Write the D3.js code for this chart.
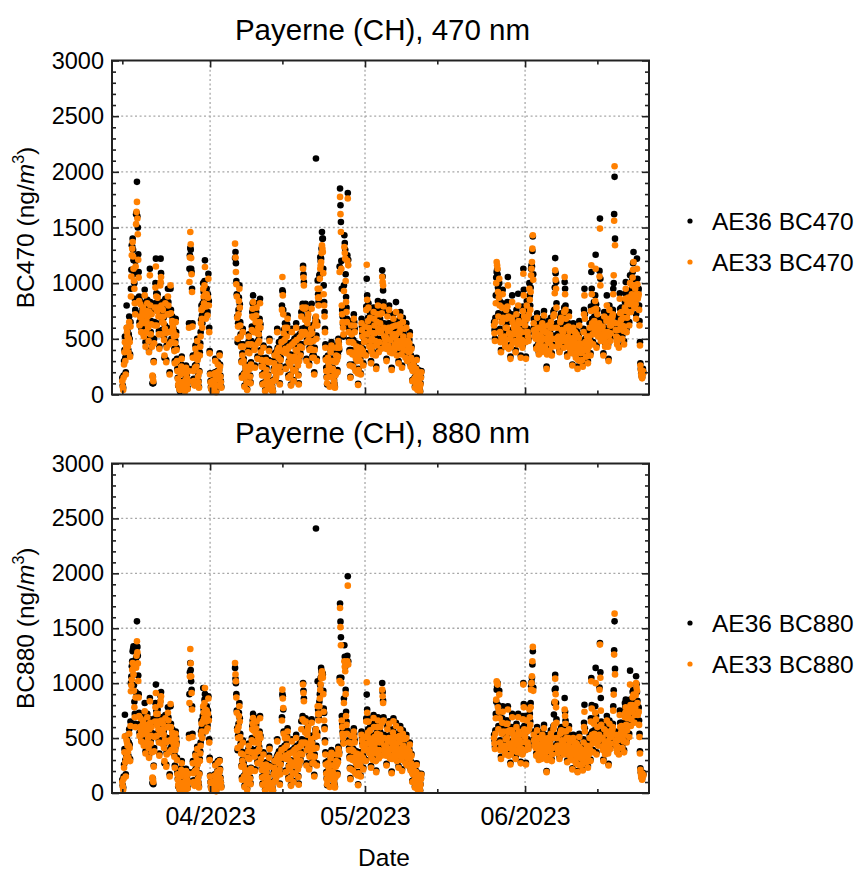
<!DOCTYPE html>
<html>
<head>
<meta charset="utf-8">
<script src="https://cdn.jsdelivr.net/npm/d3@7/dist/d3.min.js"></script>
<style>
  html, body { margin: 0; padding: 0; background: #fff; }
  svg { display: block; font-family: "Liberation Sans", Arial, sans-serif; }
</style>
</head>
<body>
<svg id="chart" width="861" height="871"></svg>
<script>
// Black carbon at Payerne (CH), 2-hourly values in ng/m3.
// Spring segment starts 2023-03-15 00:00 UTC, early-summer segment 2023-05-26 00:00 UTC.
// One row = one day (00, 02, ... 22 h). null = no data.

const ae33_470_a = [
  120, 70, 40, 150, 270, 380, 470, 300, 180, 420, 600, 560,
  520, 430, 380, 500, 650, 470, 340, 610, 880, 1060, 1250, 1310,
  1370, 1240, 1130, 1020, 950, 820, 720, 1150, 1530, 1640, 1730, 1580,
  1440, 1210, 1050, 840, 620, 700, 810, 690, 560, 640, 700, 740,
  780, 650, 520, 710, 890, 640, 430, 560, 660, 750, 820, 700,
  600, 480, 380, 740, 1070, 800, 540, 630, 720, 430, 170, 150,
  120, 290, 460, 620, 780, 960, 1150, 880, 620, 750, 870, 780,
  700, 540, 410, 700, 980, 1010, 1055, 800, 540, 650, 760, 700,
  640, 490, 350, 590, 820, 550, 290, 420, 560, 720, 880, 800,
  720, 450, 180, 560, 980, 730, 470, 570, 660, 630, 600, 560,
  520, 390, 280, 460, 650, 530, 400, 300, 210, 140, 90, 75,
  60, 50, 40, 110, 180, 250, 320, 210, 110, 85, 70, 80,
  90, 55, 30, 130, 240, 190, 150, 95, 50, 120, 210, 600,
  1010, 1230, 1460, 1350, 1225, 1080, 920, 610, 330, 210, 120, 95,
  80, 240, 410, 330, 250, 360, 480, 310, 160, 110, 60, 200,
  350, 430, 520, 640, 760, 680, 600, 780, 950, 880, 820, 980,
  1145, 900, 680, 790, 900, 800, 710, 870, 1040, 800, 560, 370,
  180, 110, 60, 50, 40, 80, 120, 70, 30, 60, 90, 190,
  300, 150, 20, 80, 140, 200, 270, 170, 80, 210, 350, 250,
  160, 110, 60, null, null, null, null, null, null, null, null, null,
  null, null, null, null, null, null, null, null, null, null, null, null,
  null, null, null, null, null, null, null, null, null, null, 1355, 1230,
  1100, 990, 880, 690, 500, 610, 720, 840, 950, 780, 620, 520,
  430, 290, 150, 350, 560, 430, 300, 180, 70, 160, 250, 210,
  180, 110, 40, 210, 380, 450, 520, 370, 230, 160, 100, 270,
  450, 580, 700, 770, 830, 690, 560, 400, 240, 440, 650, 710,
  780, 550, 320, 460, 600, 540, 480, 650, 820, 600, 380, 310,
  250, 170, 90, 250, 420, 300, 180, 100, 30, 170, 310, 220,
  140, 100, 60, 170, 290, 390, 480, 290, 110, 75, 40, 55,
  70, 45, 25, 120, 210, 280, 350, 240, 130, 150, 180, 370,
  560, 400, 240, 330, 420, 250, 90, 200, 310, 390, 470, 760,
  1055, 890, 720, 550, 380, 490, 600, 410, 230, 370, 520, 600,
  680, 410, 150, 290, 430, 340, 260, 170, 80, 320, 560, 450,
  330, 220, 120, 300, 470, 340, 210, 400, 600, 490, 390, 320,
  260, 170, 90, 300, 510, 430, 350, 520, 700, 560, 420, 780,
  1130, 1050, 980, 770, 560, 670, 780, 540, 300, 470, 640, 680,
  720, 490, 260, 400, 540, 470, 410, 590, 770, 550, 330, 400,
  480, 330, 180, 400, 620, 660, 700, 500, 300, 620, 950, 870,
  800, 870, 950, 1040, 1130, 1160, 1190, 1270, 1340, 1310, 1280, 1090,
  900, 800, 700, 560, 420, 310, 210, 150, 100, 210, 330, 290,
  250, 160, 70, 220, 380, 410, 440, 300, 160, 230, 300, 210,
  120, 90, 60, 170, 290, 350, 420, 310, 200, 340, 480, 450,
  420, 1100, 1775, 1620, 1460, 1130, 800, 720, 650, 600, 540, 930,
  1325, 1270, 1220, 1020, 830, 740, 650, 1200, 1760, 1160, 560, 470,
  380, 260, 150, 380, 620, 540, 470, 360, 250, 460, 680, 620,
  560, 380, 210, 320, 430, 360, 300, 190, 85, 220, 350, 380,
  420, 300, 180, 410, 640, 580, 520, 390, 260, 360, 470, 540,
  610, 480, 350, 760, 1165, 850, 540, 660, 780, 600, 430, 560,
  690, 480, 280, 390, 500, 430, 360, 550, 740, 680, 620, 550,
  480, 350, 230, 440, 650, 720, 800, 590, 380, 470, 560, 640,
  720, 560, 410, 730, 1055, 1010, 980, 790, 600, 520, 450, 490,
  520, 410, 300, 500, 700, 570, 440, 600, 760, 570, 380, 490,
  600, 410, 220, 370, 530, 610, 680, 540, 400, 450, 510, 620,
  740, 540, 350, 480, 620, 450, 280, 420, 560, 630, 700, 590,
  480, 360, 240, 440, 650, 520, 400, 490, 590, 460, 330, 460,
  600, 450, 300, 390, 480, 430, 380, 460, 530, 390, 250, 330,
  410, 260, 120, 210, 300, 260, 220, 140, 60, 110, 160, 230,
  310, 170, 40, 120, 200, 150, 100, 60, 25, 90, 150, 200
];

const ae36_470_a = [
  150, 80, 60, 170, 300, 400, 520, 330, 200, 460, 800, 600,
  580, 460, 400, 540, 700, 500, 360, 650, 950, 1120, 1340, 1330,
  1400, 1300, 1205, 1080, 1000, 860, 760, 1200, 1620, 1630, 1910, 1600,
  1500, 1260, 1100, 880, 650, 730, 840, 720, 600, 670, 720, 770,
  820, 680, 540, 740, 940, 670, 470, 590, 700, 790, 850, 730,
  640, 500, 400, 770, 1130, 830, 560, 660, 750, 450, 100, 160,
  100, 300, 500, 650, 820, 1000, 1220, 910, 640, 790, 900, 810,
  740, 570, 430, 730, 1000, 1220, 1090, 830, 580, 680, 800, 730,
  690, 510, 330, 620, 860, 580, 310, 440, 600, 760, 950, 830,
  760, 470, 200, 590, 950, 760, 500, 600, 700, 660, 640, 590,
  560, 410, 300, 480, 680, 560, 420, 320, 230, 150, 80, 80,
  70, 55, 30, 120, 200, 270, 340, 220, 120, 90, 60, 90,
  100, 60, 40, 140, 260, 200, 170, 100, 60, 130, 230, 640,
  1130, 1250, 1315, 1300, 1130, 1100, 950, 640, 350, 230, 140, 100,
  90, 260, 440, 350, 270, 380, 500, 330, 170, 120, 70, 210,
  380, 460, 560, 670, 800, 710, 640, 820, 1000, 920, 860, 1020,
  1205, 940, 720, 830, 950, 840, 740, 900, 1085, 840, 600, 390,
  190, 120, 70, 55, 50, 90, 130, 80, 40, 70, 100, 200,
  320, 160, 30, 90, 160, 210, 290, 180, 90, 220, 370, 270,
  170, 120, 70, null, null, null, null, null, null, null, null, null,
  null, null, null, null, null, null, null, null, null, null, null, null,
  null, null, null, null, null, null, null, null, null, null, 1225, 1280,
  1180, 1020, 900, 700, 470, 640, 760, 870, 980, 810, 650, 540,
  450, 300, 170, 370, 590, 450, 320, 190, 80, 170, 270, 230,
  200, 120, 50, 220, 400, 470, 540, 390, 250, 170, 110, 290,
  480, 610, 740, 820, 890, 720, 600, 420, 260, 460, 690, 740,
  820, 580, 340, 480, 640, 570, 510, 680, 860, 630, 400, 330,
  270, 180, 100, 260, 440, 320, 200, 110, 40, 180, 330, 240,
  150, 110, 70, 180, 310, 410, 500, 300, 120, 80, 50, 60,
  80, 50, 30, 130, 230, 300, 370, 250, 140, 160, 200, 390,
  590, 420, 260, 350, 470, 270, 100, 210, 330, 410, 500, 800,
  935, 920, 760, 580, 400, 510, 640, 430, 250, 390, 550, 630,
  710, 430, 170, 300, 460, 360, 280, 180, 90, 340, 590, 470,
  350, 230, 130, 320, 500, 360, 230, 420, 640, 520, 410, 340,
  280, 180, 100, 320, 540, 450, 370, 550, 740, 590, 450, 815,
  1155, 1080, 1010, 810, 600, 700, 815, 570, 320, 490, 680, 710,
  760, 510, 280, 420, 570, 490, 430, 620, 815, 580, 350, 420,
  500, 350, 200, 420, 650, 690, 2120, 530, 320, 650, 1025, 900,
  830, 900, 1070, 1080, 1235, 1200, 1220, 1310, 1460, 1400, 1400, 1130,
  980, 830, 740, 590, 450, 330, 240, 160, 90, 220, 350, 300,
  270, 170, 80, 230, 400, 430, 470, 320, 170, 240, 320, 220,
  130, 95, 70, 180, 310, 370, 440, 330, 220, 360, 500, 470,
  400, 1150, 1850, 1700, 1550, 1200, 950, 760, 700, 630, 520, 980,
  1430, 1360, 1300, 1080, 875, 780, 680, 1250, 1810, 1210, 600, 490,
  400, 270, 160, 400, 660, 570, 500, 380, 270, 490, 720, 650,
  590, 400, 230, 340, 460, 380, 320, 200, 95, 230, 370, 400,
  450, 320, 190, 430, 680, 610, 550, 410, 280, 380, 500, 570,
  640, 500, 370, 790, 1040, 890, 570, 690, 820, 630, 460, 590,
  730, 500, 300, 410, 530, 450, 380, 580, 780, 720, 650, 580,
  510, 370, 250, 460, 690, 760, 840, 620, 400, 500, 590, 680,
  760, 590, 430, 770, 1115, 1060, 935, 830, 640, 550, 480, 520,
  550, 430, 320, 530, 740, 600, 470, 640, 800, 600, 400, 520,
  640, 430, 240, 390, 560, 640, 720, 570, 420, 480, 540, 660,
  830, 570, 370, 510, 660, 480, 300, 440, 590, 670, 740, 620,
  510, 380, 260, 460, 690, 550, 430, 520, 620, 490, 350, 490,
  640, 480, 320, 410, 500, 460, 400, 490, 560, 410, 270, 350,
  430, 270, 130, 220, 320, 270, 240, 150, 70, 120, 170, 240,
  330, 180, 50, 130, 220, 160, 110, 65, 30, 100, 160, 210
];

const ae33_470_b = [
  620, 550, 480, 650, 820, 1000, 1190, 1160, 1130, 920, 700, 870,
  1040, 800, 560, 470, 380, 510, 650, 780, 900, 690, 470, 500,
  520, 470, 430, 600, 760, 680, 600, 790, 980, 700, 410, 550,
  690, 500, 320, 430, 540, 690, 830, 650, 470, 540, 610, 600,
  580, 480, 380, 550, 720, 590, 450, 630, 800, 660, 520, 580,
  640, 490, 330, 450, 560, 490, 420, 750, 1085, 890, 700, 660,
  620, 470, 320, 560, 800, 680, 560, 520, 480, 720, 950, 850,
  760, 920, 1070, 1130, 1190, 1310, 1430, 1030, 640, 580, 520, 550,
  580, 500, 410, 550, 690, 600, 520, 440, 360, 480, 600, 530,
  470, 420, 380, 510, 640, 570, 500, 610, 710, 570, 430, 500,
  560, 400, 230, 360, 480, 550, 620, 500, 390, 460, 540, 600,
  650, 500, 350, 430, 500, 600, 700, 710, 720, 910, 1115, 1030,
  950, 780, 600, 510, 430, 470, 520, 450, 380, 510, 650, 670,
  690, 580, 480, 520, 560, 490, 420, 740, 1055, 900, 760, 680,
  600, 470, 340, 430, 520, 610, 700, 570, 450, 410, 380, 430,
  480, 370, 260, 430, 600, 510, 420, 490, 560, 450, 330, 440,
  540, 380, 230, 310, 400, 510, 620, 460, 300, 370, 450, 410,
  380, 310, 250, 400, 560, 720, 890, 680, 470, 400, 340, 430,
  520, 400, 280, 350, 430, 520, 600, 470, 350, 750, 1160, 900,
  640, 540, 450, 600, 760, 660, 560, 840, 1130, 770, 420, 570,
  720, 620, 520, 580, 640, 1060, 1490, 980, 480, 540, 600, 600,
  610, 480, 350, 520, 700, 560, 430, 470, 520, 660, 800, 680,
  560, 430, 300, 530, 760, 620, 480, 550, 620, 650, 690, 700,
  720, 900, 1070, 1560, 2050, 1340, 640, 580, 520, 480, 450, 510,
  580, 500, 420, 640, 860, 730, 600, 670, 740, 620, 500, 600,
  690, 570, 450, 610, 780, 860, 950, 750, 560, 690, 820, 850,
  870, 740, 620, 810, 1000, 870, 740, 820, 900, 980, 1050, 1120,
  1190, 980, 780, 860, 950, 810, 680, 900, 1130, 990, 860, 880,
  900, 760, 620, 440, 260, 220, 180, 160, 145, 175, 210, 190
];

const ae36_470_b = [
  650, 580, 500, 690, 890, 1050, 1100, 1120, 1080, 960, 730, 910,
  1000, 840, 590, 490, 400, 540, 690, 820, 940, 720, 490, 530,
  550, 490, 450, 630, 800, 710, 640, 830, 1055, 740, 430, 580,
  720, 530, 340, 450, 570, 720, 890, 680, 500, 570, 640, 630,
  610, 500, 400, 580, 760, 620, 480, 660, 905, 700, 550, 610,
  680, 510, 350, 470, 590, 520, 440, 790, 1130, 940, 740, 690,
  650, 490, 340, 590, 840, 710, 590, 550, 500, 760, 1000, 890,
  800, 960, 1130, 1160, 1150, 1290, 1420, 1080, 680, 610, 550, 580,
  610, 520, 430, 580, 730, 630, 550, 460, 380, 500, 640, 560,
  500, 440, 400, 540, 680, 600, 530, 640, 750, 600, 450, 530,
  590, 420, 250, 380, 510, 580, 660, 530, 410, 490, 570, 640,
  690, 530, 370, 450, 530, 630, 740, 750, 760, 960, 1225, 1090,
  1010, 820, 640, 540, 450, 500, 550, 470, 400, 540, 690, 710,
  730, 610, 510, 550, 590, 520, 440, 780, 1010, 950, 800, 720,
  640, 490, 360, 450, 550, 640, 740, 600, 470, 430, 400, 450,
  510, 390, 270, 450, 640, 540, 440, 520, 590, 470, 350, 460,
  570, 400, 250, 330, 420, 540, 660, 490, 320, 390, 480, 430,
  400, 330, 270, 420, 590, 760, 950, 720, 500, 420, 360, 450,
  550, 420, 300, 370, 460, 550, 640, 500, 370, 790, 1100, 950,
  680, 570, 470, 630, 830, 700, 590, 890, 1255, 810, 440, 600,
  760, 650, 550, 610, 680, 1110, 1580, 1040, 510, 570, 640, 630,
  650, 500, 370, 550, 740, 590, 460, 500, 550, 700, 890, 720,
  600, 450, 320, 560, 800, 650, 510, 580, 660, 690, 730, 740,
  760, 950, 1000, 1620, 1955, 1400, 700, 610, 560, 510, 480, 540,
  620, 530, 440, 680, 910, 770, 640, 710, 780, 660, 530, 640,
  730, 600, 480, 650, 830, 910, 1010, 790, 590, 730, 870, 900,
  920, 780, 650, 860, 1070, 920, 780, 870, 950, 1030, 1100, 1180,
  1280, 1030, 820, 910, 1000, 850, 720, 950, 1220, 1040, 910, 930,
  950, 800, 660, 470, 280, 230, 190, 170, 155, 185, 230, 200
];

const ae33_880_a = [
  100, 60, 30, 130, 230, 370, 516, 280, 150, 320, 480, 460,
  430, 370, 320, 430, 540, 410, 290, 610, 926, 980, 1032, 1120,
  1184, 1130, 1080, 930, 780, 690, 600, 870, 1140, 1250, 1381, 1280,
  1180, 1020, 870, 700, 520, 600, 680, 570, 470, 530, 590, 620,
  660, 540, 430, 590, 744, 550, 360, 460, 550, 620, 690, 600,
  500, 410, 320, 580, 835, 640, 450, 520, 600, 370, 140, 120,
  100, 240, 380, 510, 650, 780, 911, 720, 520, 620, 720, 650,
  580, 460, 340, 570, 804, 840, 880, 660, 450, 540, 630, 580,
  530, 410, 290, 480, 680, 460, 240, 350, 470, 600, 730, 660,
  600, 370, 150, 480, 810, 600, 390, 470, 550, 520, 500, 460,
  430, 330, 230, 390, 540, 490, 440, 300, 170, 120, 75, 60,
  50, 40, 30, 90, 150, 210, 270, 180, 90, 75, 60, 65,
  75, 45, 25, 110, 200, 160, 125, 80, 40, 100, 175, 500,
  820, 1060, 1311, 1180, 1062, 910, 760, 510, 270, 180, 100, 80,
  65, 200, 340, 270, 210, 300, 400, 260, 130, 90, 50, 170,
  290, 360, 430, 530, 630, 560, 500, 650, 790, 730, 680, 820,
  956, 760, 560, 650, 750, 670, 590, 720, 860, 660, 460, 300,
  150, 95, 50, 40, 30, 65, 100, 60, 25, 50, 75, 160,
  250, 130, 15, 65, 115, 190, 273, 170, 65, 180, 290, 210,
  130, 90, 50, null, null, null, null, null, null, null, null, null,
  null, null, null, null, null, null, null, null, null, null, null, null,
  null, null, null, null, null, null, null, null, null, null, 1184, 1080,
  1017, 870, 730, 570, 410, 500, 600, 700, 790, 650, 510, 430,
  360, 240, 120, 290, 460, 350, 250, 150, 55, 130, 210, 180,
  150, 90, 30, 170, 320, 380, 430, 310, 190, 130, 80, 220,
  370, 480, 580, 630, 683, 570, 460, 330, 200, 370, 540, 590,
  650, 460, 270, 380, 500, 450, 400, 540, 680, 500, 310, 260,
  210, 140, 75, 210, 350, 250, 150, 85, 25, 140, 260, 190,
  115, 80, 50, 140, 240, 320, 400, 240, 90, 60, 30, 45,
  60, 40, 20, 95, 170, 230, 290, 200, 110, 130, 150, 310,
  470, 330, 200, 270, 350, 210, 75, 170, 260, 320, 390, 660,
  941, 860, 774, 540, 320, 410, 500, 340, 190, 310, 430, 500,
  560, 340, 125, 240, 360, 290, 215, 140, 65, 270, 470, 370,
  270, 180, 100, 250, 390, 280, 175, 340, 500, 410, 320, 270,
  215, 145, 75, 250, 420, 360, 290, 430, 580, 460, 350, 670,
  987, 910, 835, 650, 460, 550, 650, 450, 250, 390, 530, 570,
  600, 410, 215, 330, 450, 390, 340, 490, 640, 450, 270, 330,
  400, 270, 150, 330, 510, 550, 580, 410, 250, 520, 790, 720,
  660, 720, 790, 860, 940, 990, 1047, 1080, 1108, 1080, 1050, 900,
  740, 660, 580, 460, 350, 260, 175, 125, 80, 170, 270, 240,
  205, 130, 55, 180, 315, 340, 365, 250, 130, 190, 250, 170,
  100, 75, 50, 140, 240, 290, 350, 260, 165, 280, 400, 380,
  350, 1020, 1685, 1510, 1345, 1000, 660, 600, 540, 500, 450, 820,
  1200, 1150, 1108, 900, 700, 620, 540, 1200, 1888, 1170, 460, 390,
  315, 220, 125, 320, 520, 450, 390, 300, 205, 380, 560, 510,
  460, 320, 175, 270, 360, 300, 250, 160, 70, 180, 290, 320,
  350, 250, 150, 340, 530, 480, 430, 320, 215, 300, 390, 450,
  510, 400, 290, 650, 1008, 730, 450, 550, 650, 500, 360, 460,
  570, 400, 230, 320, 415, 360, 300, 490, 683, 600, 510, 450,
  400, 290, 190, 360, 540, 600, 660, 490, 315, 390, 460, 530,
  600, 470, 340, 640, 941, 880, 820, 660, 500, 430, 370, 400,
  430, 340, 250, 410, 580, 470, 365, 500, 630, 470, 315, 400,
  500, 340, 180, 310, 440, 550, 653, 490, 330, 380, 420, 510,
  610, 450, 290, 400, 510, 370, 230, 340, 460, 520, 580, 490,
  400, 300, 200, 370, 540, 430, 330, 410, 490, 380, 270, 380,
  500, 370, 250, 320, 400, 360, 315, 380, 440, 320, 205, 270,
  340, 220, 100, 170, 250, 210, 180, 115, 50, 90, 130, 190,
  255, 140, 35, 100, 165, 125, 85, 50, 20, 75, 125, 165
];

const ae36_880_a = [
  120, 70, 50, 150, 260, 400, 713, 300, 170, 340, 520, 490,
  470, 400, 340, 460, 580, 440, 310, 650, 1000, 1060, 1154, 1200,
  1290, 1310, 1336, 980, 830, 720, 630, 920, 1230, 1330, 1563, 1330,
  1250, 1070, 900, 730, 550, 630, 700, 600, 500, 560, 610, 650,
  690, 570, 450, 620, 820, 580, 380, 480, 580, 650, 720, 630,
  530, 430, 340, 610, 865, 670, 470, 550, 630, 390, 90, 130,
  80, 250, 410, 540, 680, 820, 987, 750, 540, 650, 760, 680,
  610, 480, 360, 600, 830, 880, 920, 690, 480, 570, 660, 610,
  560, 430, 270, 510, 710, 480, 260, 370, 500, 630, 780, 690,
  630, 390, 170, 500, 790, 630, 420, 490, 580, 550, 530, 490,
  460, 350, 250, 410, 560, 510, 460, 320, 190, 130, 60, 65,
  60, 45, 25, 100, 170, 230, 290, 190, 100, 80, 50, 70,
  85, 50, 35, 120, 220, 170, 140, 90, 50, 110, 190, 530,
  900, 1100, 1184, 1120, 1017, 940, 789, 540, 290, 190, 115, 90,
  75, 210, 360, 290, 230, 320, 420, 270, 140, 95, 60, 180,
  310, 380, 460, 560, 660, 590, 530, 700, 956, 760, 710, 850,
  900, 790, 590, 680, 789, 700, 620, 750, 880, 690, 490, 320,
  160, 100, 60, 45, 40, 70, 110, 65, 30, 55, 85, 170,
  265, 140, 25, 70, 130, 200, 290, 180, 75, 190, 300, 220,
  140, 95, 60, null, null, null, null, null, null, null, null, null,
  null, null, null, null, null, null, null, null, null, null, null, null,
  null, null, null, null, null, null, null, null, null, null, 1139, 1040,
  1000, 900, 750, 590, 390, 520, 630, 730, 820, 680, 540, 450,
  380, 250, 140, 300, 480, 370, 270, 160, 65, 140, 230, 190,
  165, 95, 40, 180, 340, 400, 450, 320, 200, 140, 90, 230,
  400, 500, 610, 660, 720, 600, 490, 350, 215, 390, 570, 620,
  683, 480, 290, 400, 530, 470, 420, 560, 700, 520, 330, 270,
  225, 150, 85, 220, 370, 260, 165, 90, 35, 150, 280, 200,
  125, 90, 60, 150, 260, 340, 420, 250, 100, 70, 40, 50,
  70, 45, 25, 105, 190, 240, 300, 210, 120, 140, 165, 330,
  490, 350, 215, 290, 380, 220, 85, 180, 275, 340, 410, 690,
  900, 880, 760, 560, 340, 430, 530, 360, 205, 330, 455, 520,
  590, 360, 140, 250, 380, 300, 230, 150, 75, 280, 490, 390,
  290, 190, 110, 260, 410, 300, 190, 360, 530, 430, 340, 280,
  230, 155, 85, 260, 450, 380, 310, 460, 653, 490, 370, 700,
  1002, 930, 860, 680, 480, 580, 680, 470, 270, 410, 560, 600,
  630, 430, 230, 350, 470, 410, 360, 520, 670, 470, 290, 350,
  420, 290, 165, 350, 540, 580, 2408, 430, 270, 550, 1017, 760,
  690, 760, 830, 900, 980, 1050, 1139, 1110, 1100, 1090, 1080, 930,
  770, 729, 600, 480, 370, 280, 190, 135, 70, 180, 290, 250,
  220, 140, 65, 190, 330, 360, 390, 260, 140, 200, 265, 180,
  110, 80, 60, 150, 260, 310, 370, 280, 180, 300, 420, 400,
  370, 1050, 1725, 1560, 1418, 1050, 700, 630, 560, 520, 470, 860,
  1345, 1240, 1150, 940, 740, 650, 570, 1250, 1973, 1200, 480, 410,
  330, 230, 135, 340, 550, 470, 410, 320, 220, 400, 590, 540,
  480, 340, 190, 280, 380, 320, 265, 170, 80, 190, 305, 340,
  370, 260, 160, 360, 560, 500, 455, 340, 230, 320, 410, 470,
  530, 420, 300, 680, 896, 760, 470, 580, 680, 530, 380, 480,
  600, 420, 245, 340, 440, 380, 315, 510, 710, 630, 530, 470,
  420, 300, 205, 380, 570, 630, 690, 510, 330, 410, 480, 560,
  630, 490, 360, 680, 1002, 920, 841, 690, 530, 450, 390, 420,
  450, 360, 265, 430, 610, 500, 385, 520, 653, 490, 330, 420,
  530, 360, 195, 330, 460, 580, 680, 510, 350, 400, 440, 540,
  640, 470, 305, 420, 540, 390, 245, 360, 490, 550, 610, 520,
  420, 320, 215, 390, 570, 450, 350, 430, 515, 400, 285, 400,
  530, 390, 265, 340, 420, 380, 330, 400, 460, 340, 220, 285,
  355, 230, 110, 180, 265, 220, 195, 125, 60, 100, 140, 200,
  270, 150, 45, 110, 180, 135, 95, 55, 25, 80, 135, 175
];

const ae33_880_b = [
  500, 450, 400, 540, 680, 850, 1017, 1000, 987, 780, 580, 740,
  896, 680, 460, 390, 310, 420, 540, 640, 740, 560, 390, 410,
  430, 390, 350, 490, 630, 560, 500, 630, 760, 550, 340, 450,
  570, 410, 260, 350, 450, 570, 690, 540, 390, 440, 500, 490,
  480, 390, 310, 450, 600, 480, 370, 530, 690, 560, 430, 480,
  530, 400, 270, 360, 460, 400, 350, 670, 987, 780, 580, 550,
  510, 390, 260, 460, 660, 560, 460, 430, 400, 580, 760, 690,
  620, 780, 941, 1000, 1062, 1200, 1330, 930, 530, 480, 430, 450,
  480, 410, 340, 450, 570, 500, 430, 360, 300, 400, 500, 440,
  390, 350, 310, 420, 530, 470, 410, 500, 590, 470, 360, 410,
  460, 320, 190, 300, 400, 450, 500, 410, 320, 380, 450, 500,
  540, 410, 290, 350, 410, 500, 580, 600, 620, 830, 1041, 900,
  780, 640, 500, 430, 360, 390, 430, 370, 310, 420, 540, 550,
  570, 480, 400, 430, 460, 400, 350, 560, 760, 700, 630, 560,
  500, 390, 280, 350, 430, 500, 580, 470, 370, 340, 310, 350,
  400, 300, 215, 360, 500, 420, 350, 400, 460, 370, 270, 360,
  450, 320, 190, 260, 330, 420, 510, 380, 250, 320, 400, 350,
  310, 260, 205, 330, 460, 600, 740, 560, 390, 330, 280, 350,
  430, 330, 230, 290, 350, 420, 500, 390, 290, 650, 1017, 770,
  530, 450, 370, 500, 630, 540, 460, 730, 1000, 670, 350, 470,
  600, 510, 430, 480, 530, 940, 1351, 1050, 750, 620, 500, 500,
  500, 390, 290, 430, 580, 460, 350, 390, 430, 540, 660, 560,
  470, 360, 250, 440, 630, 510, 400, 450, 510, 540, 570, 580,
  600, 750, 896, 1260, 1633, 1080, 530, 480, 430, 400, 370, 420,
  480, 410, 350, 530, 710, 600, 500, 550, 610, 510, 410, 490,
  570, 470, 370, 530, 690, 730, 780, 620, 460, 570, 680, 700,
  720, 610, 510, 750, 987, 800, 610, 670, 740, 800, 870, 880,
  896, 770, 640, 710, 780, 890, 1000, 960, 930, 820, 710, 730,
  740, 620, 510, 360, 212, 180, 150, 135, 121, 150, 175, 160
];

const ae36_880_b = [
  530, 480, 420, 570, 720, 830, 940, 970, 1000, 800, 610, 770,
  930, 710, 480, 410, 330, 440, 570, 680, 789, 590, 410, 430,
  460, 410, 370, 520, 660, 590, 530, 660, 789, 580, 360, 470,
  600, 430, 275, 370, 470, 600, 720, 570, 410, 460, 520, 510,
  510, 410, 330, 480, 630, 510, 390, 560, 720, 590, 450, 500,
  560, 420, 285, 380, 490, 420, 370, 700, 1000, 810, 610, 580,
  540, 410, 275, 490, 700, 590, 490, 450, 420, 610, 800, 720,
  650, 820, 971, 1010, 1050, 1170, 1290, 960, 560, 500, 450, 470,
  510, 430, 360, 480, 600, 530, 450, 380, 320, 420, 530, 470,
  410, 370, 330, 440, 560, 490, 430, 530, 620, 500, 380, 430,
  490, 340, 200, 320, 420, 470, 530, 430, 340, 400, 470, 520,
  570, 430, 305, 370, 430, 520, 610, 715, 820, 940, 1077, 950,
  820, 670, 530, 450, 380, 410, 450, 390, 330, 450, 570, 580,
  600, 510, 420, 450, 490, 430, 370, 600, 865, 740, 660, 590,
  530, 410, 295, 370, 450, 530, 610, 500, 390, 360, 330, 370,
  420, 320, 225, 380, 530, 440, 370, 420, 485, 390, 285, 380,
  470, 340, 200, 275, 350, 440, 540, 400, 265, 340, 420, 370,
  330, 275, 215, 350, 490, 640, 804, 590, 410, 350, 295, 370,
  455, 350, 245, 305, 370, 450, 530, 410, 305, 680, 1047, 800,
  560, 470, 390, 530, 660, 570, 485, 790, 1139, 700, 370, 500,
  630, 540, 455, 510, 560, 960, 1366, 1100, 865, 650, 530, 530,
  530, 410, 305, 450, 610, 490, 370, 410, 455, 570, 700, 590,
  500, 380, 265, 470, 660, 540, 420, 480, 540, 570, 600, 610,
  630, 790, 935, 1300, 1563, 1130, 560, 510, 455, 420, 390, 440,
  510, 440, 370, 560, 750, 640, 530, 580, 640, 540, 430, 520,
  600, 500, 390, 560, 820, 780, 850, 660, 485, 600, 720, 740,
  760, 650, 540, 800, 1114, 850, 640, 710, 780, 850, 920, 930,
  940, 810, 670, 740, 820, 940, 1063, 990, 920, 840, 750, 770,
  780, 660, 540, 380, 225, 190, 160, 145, 130, 160, 185, 170
];

// Axis ticks
const yMajorTicks = [0, 500, 1000, 1500, 2000, 2500, 3000];
const monthTicks = [Date.UTC(2023, 3, 1), Date.UTC(2023, 4, 1), Date.UTC(2023, 5, 1)];
const midMonthTicks = [Date.UTC(2023, 2, 15), Date.UTC(2023, 3, 15), Date.UTC(2023, 4, 15), Date.UTC(2023, 5, 15)];
const timeDomain = [Date.UTC(2023, 2, 13), Date.UTC(2023, 5, 25)];
const segStartA = Date.UTC(2023, 2, 15);
const segStartB = Date.UTC(2023, 4, 26);
const STEP = 2 * 3600 * 1000;

function toPoints(start, values) {
  return values.map((v, i) => ({ t: new Date(start + i * STEP), v }))
               .filter(d => d.v !== null);
}

const svg = d3.select("#chart");
const FONT = "'Liberation Sans', Arial, sans-serif";
const ORANGE = "#ff8000";
const left = 112, right = 649;

const x = d3.scaleUtc().domain(timeDomain.map(d => new Date(d))).range([left, right]);

function panel(cfg) {
  const y = d3.scaleLinear().domain([0, 3000]).range([cfg.bottom, cfg.top]);
  const g = svg.append("g");
  const minorY = d3.range(100, 3000, 100).filter(v => v % 500 !== 0);

  // grid
  g.append("g").selectAll("line").data([500, 1000, 1500, 2000, 2500]).join("line")
    .attr("x1", left).attr("x2", right).attr("y1", d => y(d)).attr("y2", d => y(d))
    .attr("stroke", "#a8a8a8").attr("stroke-width", 1.3).attr("stroke-dasharray", "2,2.6");
  g.append("g").selectAll("line").data(monthTicks).join("line")
    .attr("x1", d => x(new Date(d))).attr("x2", d => x(new Date(d)))
    .attr("y1", cfg.top).attr("y2", cfg.bottom)
    .attr("stroke", "#a8a8a8").attr("stroke-width", 1.3).attr("stroke-dasharray", "2,2.6");

  // points: AE36 first, AE33 on top
  const plot = g.append("g");
  plot.append("g").selectAll("circle").data(cfg.black).join("circle")
    .attr("cx", d => x(d.t)).attr("cy", d => y(d.v)).attr("r", 3.3).attr("fill", "#000");
  plot.append("g").selectAll("circle").data(cfg.orange).join("circle")
    .attr("cx", d => x(d.t)).attr("cy", d => y(d.v)).attr("r", 3.3).attr("fill", ORANGE);

  // axes (ticks pointing inward)
  const styleAxis = sel => {
    sel.select(".domain").remove();
    sel.selectAll(".tick line").attr("stroke", "#222").attr("stroke-width", 1.6);
    sel.selectAll(".tick text").attr("font-family", FONT).attr("font-size", 23.5).attr("fill", "#000");
  };
  g.append("g").attr("transform", `translate(${left},0)`)
    .call(d3.axisLeft(y).tickValues(yMajorTicks).tickSize(-7).tickPadding(8).tickFormat(d3.format("d")))
    .call(styleAxis);
  g.append("g").attr("transform", `translate(${left},0)`)
    .call(d3.axisLeft(y).tickValues(minorY).tickSize(-4).tickFormat(""))
    .call(styleAxis);
  g.append("g").attr("transform", `translate(${right},0)`)
    .call(d3.axisRight(y).tickValues(yMajorTicks).tickSize(-7).tickFormat(""))
    .call(styleAxis);
  g.append("g").attr("transform", `translate(${right},0)`)
    .call(d3.axisRight(y).tickValues(minorY).tickSize(-4).tickFormat(""))
    .call(styleAxis);

  const bottomAxis = d3.axisBottom(x).tickValues(monthTicks.map(d => new Date(d))).tickSize(-7).tickPadding(14)
    .tickFormat(cfg.xLabels ? d3.utcFormat("%m/%Y") : () => "");
  const bAx = g.append("g").attr("transform", `translate(0,${cfg.bottom})`).call(bottomAxis).call(styleAxis);
  bAx.selectAll(".tick text").attr("font-size", 25);
  g.append("g").attr("transform", `translate(0,${cfg.bottom})`)
    .call(d3.axisBottom(x).tickValues(midMonthTicks.map(d => new Date(d))).tickSize(-4).tickFormat(""))
    .call(styleAxis);
  g.append("g").attr("transform", `translate(0,${cfg.top})`)
    .call(d3.axisTop(x).tickValues(monthTicks.map(d => new Date(d))).tickSize(-7).tickFormat(""))
    .call(styleAxis);
  g.append("g").attr("transform", `translate(0,${cfg.top})`)
    .call(d3.axisTop(x).tickValues(midMonthTicks.map(d => new Date(d))).tickSize(-4).tickFormat(""))
    .call(styleAxis);

  // frame
  g.append("rect").attr("x", left).attr("y", cfg.top)
    .attr("width", right - left).attr("height", cfg.bottom - cfg.top)
    .attr("fill", "none").attr("stroke", "#222").attr("stroke-width", 2);

  // title
  g.append("text").attr("x", (left + right) / 2 + 2).attr("y", cfg.top - 21)
    .attr("text-anchor", "middle").attr("font-family", FONT).attr("font-size", 29.5)
    .text(cfg.title);

  // y label
  const yl = g.append("text")
    .attr("transform", `translate(34,${(cfg.top + cfg.bottom) / 2}) rotate(-90)`)
    .attr("text-anchor", "middle").attr("font-family", FONT).attr("font-size", 24.5);
  yl.append("tspan").text(cfg.yName + " (ng/");
  yl.append("tspan").attr("font-style", "italic").text("m");
  yl.append("tspan").attr("font-size", 16).attr("dy", -10).text("3");
  yl.append("tspan").attr("dy", 10).text(")");

  // legend
  const lg = g.append("g");
  cfg.legend.forEach((item, i) => {
    const cy = cfg.legendY + i * 41;
    lg.append("circle").attr("cx", 690).attr("cy", cy).attr("r", 2.6).attr("fill", item.color);
    lg.append("text").attr("x", 712).attr("y", cy + 9)
      .attr("font-family", FONT).attr("font-size", 24.5).text(item.label);
  });
}

panel({
  top: 60.5, bottom: 394.5,
  title: "Payerne (CH), 470 nm",
  yName: "BC470",
  black: toPoints(segStartA, ae36_470_a).concat(toPoints(segStartB, ae36_470_b)),
  orange: toPoints(segStartA, ae33_470_a).concat(toPoints(segStartB, ae33_470_b)),
  legend: [{ label: "AE36 BC470", color: "#000" }, { label: "AE33 BC470", color: ORANGE }],
  legendY: 221,
  xLabels: false
});

panel({
  top: 463.5, bottom: 793,
  title: "Payerne (CH), 880 nm",
  yName: "BC880",
  black: toPoints(segStartA, ae36_880_a).concat(toPoints(segStartB, ae36_880_b)),
  orange: toPoints(segStartA, ae33_880_a).concat(toPoints(segStartB, ae33_880_b)),
  legend: [{ label: "AE36 BC880", color: "#000" }, { label: "AE33 BC880", color: ORANGE }],
  legendY: 623,
  xLabels: true
});

svg.append("text").attr("x", 384).attr("y", 866).attr("text-anchor", "middle")
  .attr("font-family", FONT).attr("font-size", 24.5).text("Date");
</script>
</body>
</html>
